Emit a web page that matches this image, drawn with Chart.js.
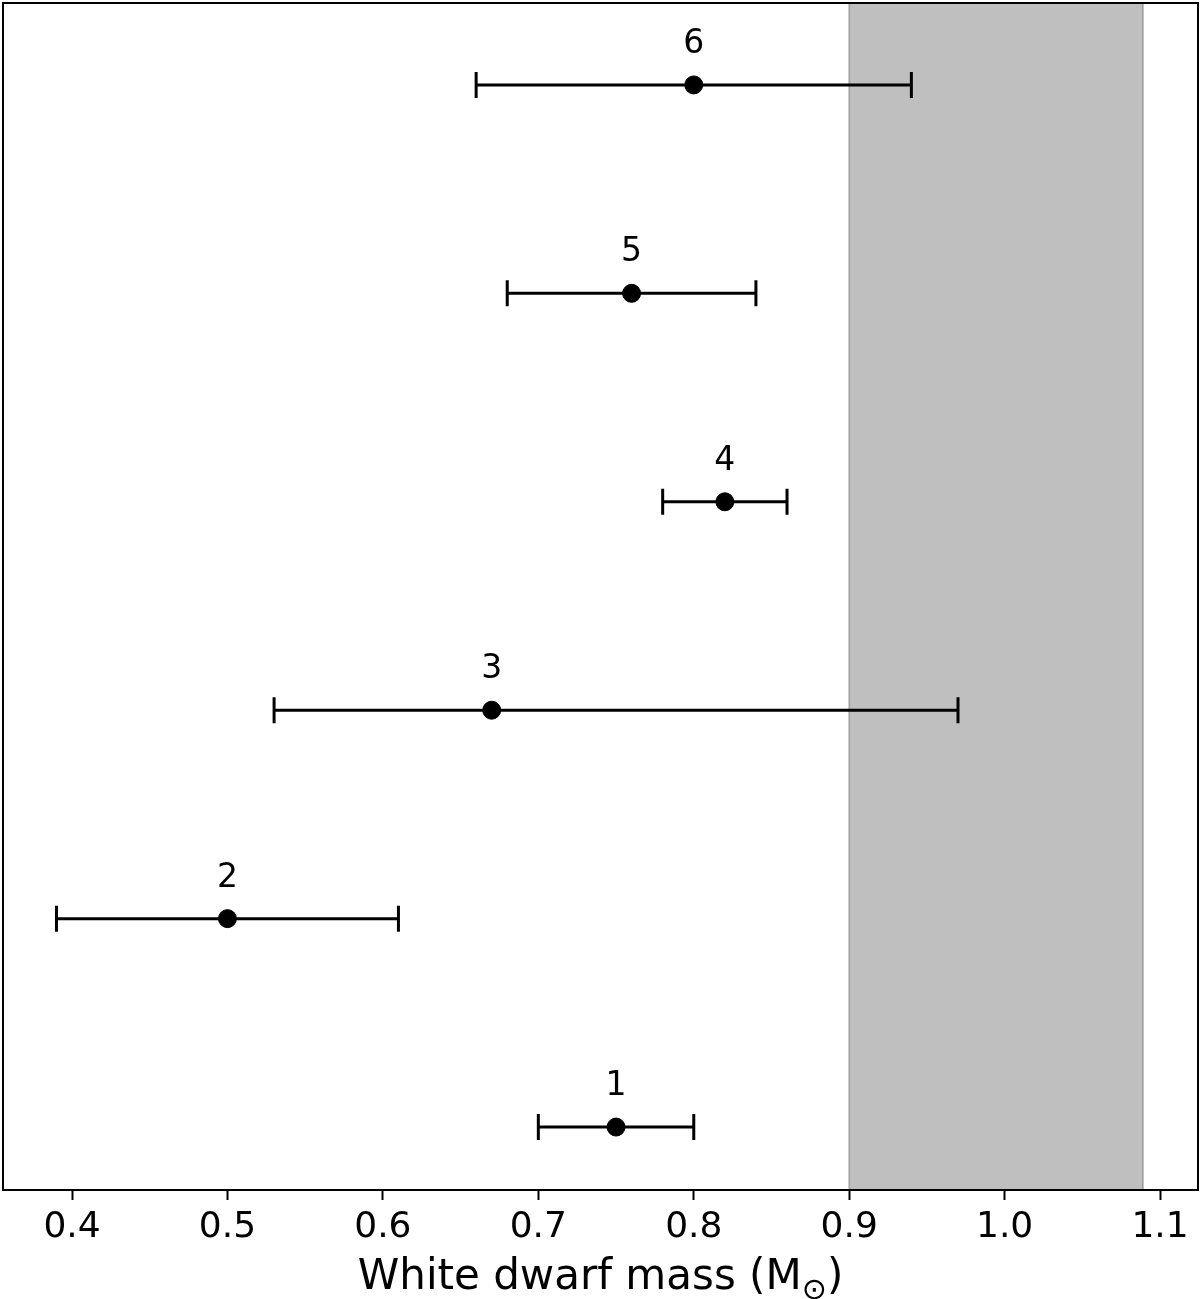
<!DOCTYPE html>
<html>
<head>
<meta charset="utf-8">
<script src="https://cdn.jsdelivr.net/npm/chart.js@4"></script>
<style>
  html, body { margin: 0; padding: 0; background: #fff; }
  #wrap { width: 1200px; height: 1299px; }
</style>
</head>
<body>
<div id="wrap"><canvas id="chart"></canvas></div>
<script>
// data
var ids = ["1", "2", "3", "4", "5", "6"];
var rows = [1, 2, 3, 4, 5, 6];
var mass = [0.75, 0.50, 0.67, 0.82, 0.76, 0.80];
var massLo = [0.70, 0.39, 0.53, 0.78, 0.68, 0.66];
var massHi = [0.80, 0.61, 0.97, 0.86, 0.84, 0.94];
var band = [0.90, 1.089];
var xTicks = [0.4, 0.5, 0.6, 0.7, 0.8, 0.9, 1.0, 1.1];

var FONT = "'DejaVu Sans', sans-serif";

// shaded range, behind the points
var bandPlugin = {
  id: "band",
  beforeDatasetsDraw: function (chart) {
    var ctx = chart.ctx, a = chart.chartArea, x = chart.scales.x;
    var x0 = x.getPixelForValue(band[0]), x1 = x.getPixelForValue(band[1]);
    ctx.save();
    ctx.fillStyle = "rgba(128,128,128,0.5)";
    ctx.fillRect(x0, a.top, x1 - x0, a.bottom - a.top);
    ctx.strokeStyle = "rgba(128,128,128,0.5)";
    ctx.lineWidth = 2;
    ctx.strokeRect(x0, a.top, x1 - x0, a.bottom - a.top);
    ctx.restore();
  }
};

// horizontal error bars + number labels
var errPlugin = {
  id: "errbars",
  beforeDatasetsDraw: function (chart) {
    var ctx = chart.ctx, x = chart.scales.x, y = chart.scales.y;
    ctx.save();
    ctx.strokeStyle = "#000";
    ctx.lineWidth = 3;
    for (var i = 0; i < rows.length; i++) {
      var py = y.getPixelForValue(rows[i]);
      var xl = x.getPixelForValue(massLo[i]), xh = x.getPixelForValue(massHi[i]);
      ctx.beginPath();
      ctx.moveTo(xl, py); ctx.lineTo(xh, py);
      ctx.moveTo(xl, py - 13); ctx.lineTo(xl, py + 13);
      ctx.moveTo(xh, py - 13); ctx.lineTo(xh, py + 13);
      ctx.stroke();
    }
    ctx.restore();
  },
  afterDatasetsDraw: function (chart) {
    var ctx = chart.ctx, x = chart.scales.x, y = chart.scales.y;
    ctx.save();
    ctx.fillStyle = "#000";
    ctx.font = "33px " + FONT;
    ctx.textAlign = "center";
    ctx.textBaseline = "alphabetic";
    for (var i = 0; i < rows.length; i++) {
      ctx.fillText(ids[i], x.getPixelForValue(mass[i]), y.getPixelForValue(rows[i]) - 32);
    }
    ctx.restore();
  }
};

// frame and x label with subscript
var framePlugin = {
  id: "frame",
  afterDraw: function (chart) {
    var ctx = chart.ctx, a = chart.chartArea;
    ctx.save();
    ctx.strokeStyle = "#000";
    ctx.lineWidth = 2;
    ctx.strokeRect(a.left, a.top, a.right - a.left, a.bottom - a.top);

    var main = "White dwarf mass (M", sub = "\u2299", tail = ")";
    ctx.font = "42px " + FONT;
    var w1 = ctx.measureText(main).width, w3 = ctx.measureText(tail).width;
    ctx.font = "30px " + FONT;
    var w2 = ctx.measureText(sub).width;
    var total = w1 + w2 + w3;
    var cx = (a.left + a.right) / 2;
    var sx = cx - total / 2, base = 1289;
    ctx.fillStyle = "#000";
    ctx.textAlign = "left";
    ctx.textBaseline = "alphabetic";
    ctx.font = "42px " + FONT;
    ctx.fillText(main, sx, base);
    ctx.font = "30px " + FONT;
    ctx.fillText(sub, sx + w1, base + 10);
    ctx.font = "42px " + FONT;
    ctx.fillText(tail, sx + w1 + w2, base);
    ctx.restore();
  }
};

var points = rows.map(function (r, i) { return { x: mass[i], y: r }; });

new Chart(document.getElementById("chart"), {
  type: "scatter",
  data: {
    datasets: [{
      data: points,
      backgroundColor: "#000",
      borderColor: "#000",
      pointRadius: 9,
      pointHoverRadius: 9
    }]
  },
  options: {
    responsive: true,
    maintainAspectRatio: false,
    animation: false,
    events: [],
    layout: { autoPadding: false, padding: { left: 3, right: 2, top: 3, bottom: 0 } },
    plugins: { legend: { display: false }, tooltip: { enabled: false } },
    scales: {
      x: {
        type: "linear",
        min: 0.3556,
        max: 1.1244,
        afterBuildTicks: function (s) {
          s.ticks = xTicks.map(function (v) { return { value: v }; });
        },
        afterFit: function (s) { s.height = 109; },
        grid: {
          drawOnChartArea: false,
          drawTicks: true,
          tickLength: 10,
          tickWidth: 2,
          tickColor: "#000"
        },
        border: { display: false },
        ticks: {
          color: "#000",
          padding: 6,
          maxRotation: 0,
          font: { family: FONT, size: 36 },
          callback: function (v) { return v.toFixed(1); }
        }
      },
      y: {
        type: "linear",
        display: false,
        min: 0.698,
        max: 6.393
      }
    }
  },
  plugins: [bandPlugin, errPlugin, framePlugin]
});
</script>
</body>
</html>
